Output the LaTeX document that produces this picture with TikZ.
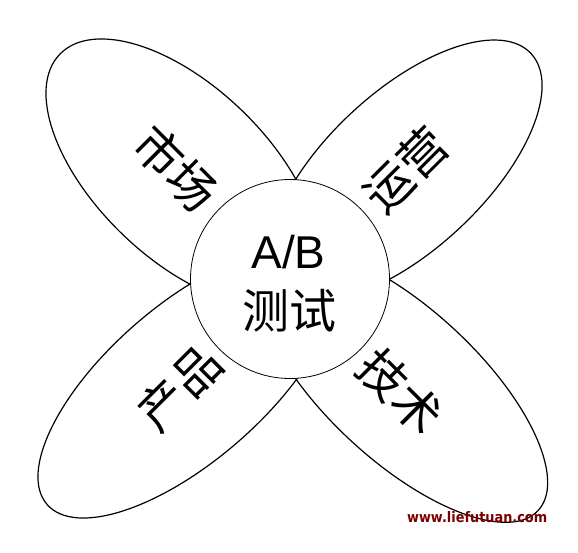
\documentclass[tikz,border=0pt]{standalone}
\usepackage{graphicx}
\usepackage{fontspec}
\setmainfont{Liberation Sans}
\newfontfamily\cjk{Noto Sans CJK SC}
\newfontfamily\wmfont{DejaVu Sans}
\usetikzlibrary{shapes.geometric}
\definecolor{wmred}{RGB}{122,0,0}
\begin{document}
\begin{tikzpicture}[x=1pt,y=-1pt,
  petal/.style={draw, ellipse, line width=1.2pt, inner sep=0pt},
  hub/.style={draw, circle, fill=white, line width=0.8pt, inner sep=0pt, minimum size=199pt},
  lbl/.style={font=\cjk\fontsize{48}{58}\selectfont, inner sep=0pt},
  hubtxt/.style={inner sep=0pt, anchor=base},
]
\useasboundingbox (0,0) rectangle (578,552);
% petals
\node[petal, minimum width=340pt, minimum height=172pt, rotate=-44]  (pTL) at (182.1,172.3) {};
\node[petal, minimum width=344pt, minimum height=158pt, rotate=43]   (pTR) at (405.2,170.8) {};
\node[petal, minimum width=370pt, minimum height=156pt, rotate=41]   (pBL) at (186.7,383.1) {};
\node[petal, minimum width=370pt, minimum height=152pt, rotate=-42.8] (pBR) at (402.4,384.8) {};
% hub
\node[hub] (hub) at (290,279) {};
\node[hubtxt, font=\fontsize{46}{55}\selectfont] (ab) at (288.5,268) {A/B};
\node[hubtxt, font=\cjk\fontsize{47}{56}\selectfont] (cs) at (289.5,328) {测试};
% labels
\node[lbl, rotate=-45] (lTL) at (176,168) {市场};
\node[lbl, rotate=45]  (lTR) at (406,170) {运营};
\node[lbl, rotate=45]  (lBL) at (180,388) {产品};
\node[lbl, rotate=-45] (lBR) at (400,392) {技术};
% watermark
\node[inner sep=0pt, anchor=base west, text=wmred, font=\wmfont\bfseries] (wm) at (407,522) {\resizebox{140pt}{11pt}{www.liefutuan.com}};
\end{tikzpicture}
\end{document}
